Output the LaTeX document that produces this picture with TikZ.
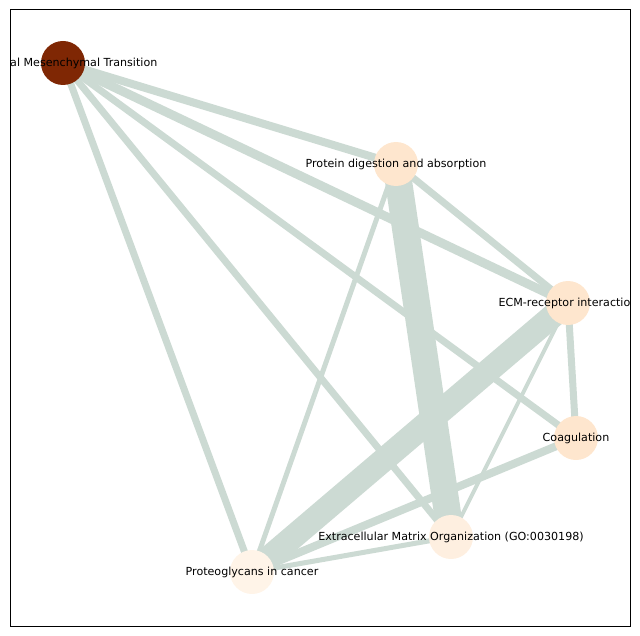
\documentclass[tikz,border=0pt]{standalone}
\usepackage{fontspec}
\setmainfont{DejaVu Sans}
\definecolor{edgec}{HTML}{CCDAD3}
\definecolor{emtc}{HTML}{7F2704}
\definecolor{midc}{HTML}{FEE6CE}
\definecolor{lowc}{HTML}{FEEFE0}
\definecolor{lowestc}{HTML}{FFF4E8}
\tikzset{
  nd/.style={circle,minimum size=44bp,inner sep=0pt,draw=none},
  lbl/.style={font=\fontsize{11.1bp}{13bp}\selectfont,text=black,inner sep=0pt},
  ed/.style={draw=edgec,line cap=butt}
}
\begin{document}
\begin{tikzpicture}[x=1bp,y=-1bp]
\useasboundingbox (0,0) rectangle (640,636);
\begin{scope}
\clip (10,10) rectangle (630,626);
\coordinate (emt) at (63,63);
\coordinate (pda) at (396,164);
\coordinate (ecm) at (568,303);
\coordinate (coa) at (576,438);
\coordinate (exm) at (451,537);
\coordinate (pgc) at (252,572);
\draw[ed,line width=8bp] (emt) -- (pda);
\draw[ed,line width=9bp] (emt) -- (ecm);
\draw[ed,line width=7bp] (emt) -- (coa);
\draw[ed,line width=7bp] (emt) -- (exm);
\draw[ed,line width=7bp] (emt) -- (pgc);
\draw[ed,line width=27bp] (pda) -- (exm);
\draw[ed,line width=7bp] (pda) -- (ecm);
\draw[ed,line width=5bp] (pda) -- (pgc);
\draw[ed,line width=24bp] (ecm) -- (pgc);
\draw[ed,line width=7bp] (ecm) -- (coa);
\draw[ed,line width=4bp] (ecm) -- (exm);
\draw[ed,line width=8bp] (coa) -- (pgc);
\draw[ed,line width=5bp] (exm) -- (pgc);
\node[nd,fill=emtc] (n1) at (emt) {};
\node[nd,fill=midc] (n2) at (pda) {};
\node[nd,fill=midc] (n3) at (ecm) {};
\node[nd,fill=midc] (n4) at (coa) {};
\node[nd,fill=lowc] (n5) at (exm) {};
\node[nd,fill=lowestc] (n6) at (pgc) {};
\node[lbl] (l1) at (emt) {Epithelial Mesenchymal Transition};
\node[lbl] (l2) at (pda) {Protein digestion and absorption};
\node[lbl] (l3) at (ecm) {ECM-receptor interaction};
\node[lbl] (l4) at (coa) {Coagulation};
\node[lbl] (l5) at (exm) {Extracellular Matrix Organization (GO:0030198)};
\node[lbl] (l6) at (pgc) {Proteoglycans in cancer};
\end{scope}
\draw[black,line width=1bp] (10,10) rectangle (630,626);
\end{tikzpicture}
\end{document}
